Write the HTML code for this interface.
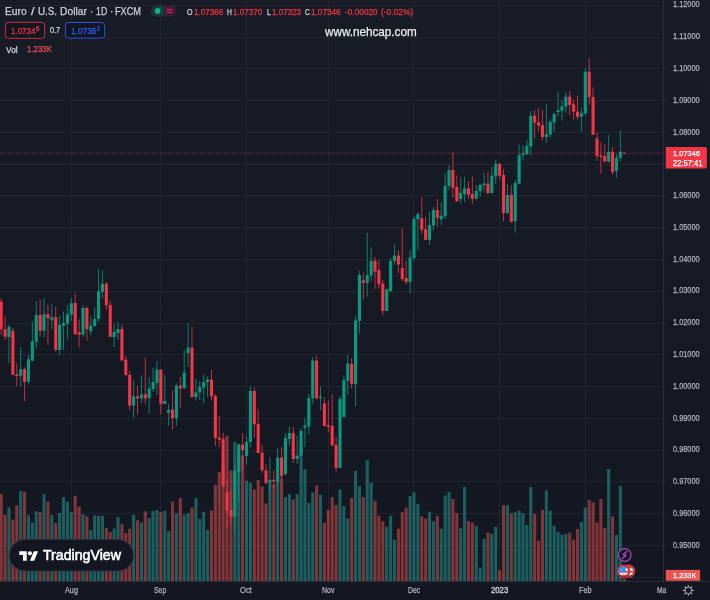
<!DOCTYPE html>
<html><head><meta charset="utf-8">
<style>
*{margin:0;padding:0;box-sizing:border-box}
html,body{width:710px;height:600px;overflow:hidden}
body{background:linear-gradient(180deg,#181c27 0%,#131722 100%);font-family:"Liberation Sans",Arial,sans-serif;position:relative}
svg{position:absolute;left:0;top:0}
.t{position:absolute;white-space:nowrap;transform-origin:0 0;-webkit-text-stroke:0.25px currentColor}
.tw{position:absolute;left:0;top:0;width:666.2px;height:600px;overflow:hidden}
</style></head><body>
<svg width="710" height="600" viewBox="0 0 710 600">
<line x1="0" y1="5.50" x2="666.0" y2="5.50" stroke="#21252f" stroke-width="1"/>
<line x1="0" y1="37.50" x2="666.0" y2="37.50" stroke="#21252f" stroke-width="1"/>
<line x1="0" y1="68.50" x2="666.0" y2="68.50" stroke="#21252f" stroke-width="1"/>
<line x1="0" y1="100.50" x2="666.0" y2="100.50" stroke="#21252f" stroke-width="1"/>
<line x1="0" y1="132.50" x2="666.0" y2="132.50" stroke="#21252f" stroke-width="1"/>
<line x1="0" y1="164.50" x2="666.0" y2="164.50" stroke="#21252f" stroke-width="1"/>
<line x1="0" y1="195.50" x2="666.0" y2="195.50" stroke="#21252f" stroke-width="1"/>
<line x1="0" y1="227.50" x2="666.0" y2="227.50" stroke="#21252f" stroke-width="1"/>
<line x1="0" y1="259.50" x2="666.0" y2="259.50" stroke="#21252f" stroke-width="1"/>
<line x1="0" y1="291.50" x2="666.0" y2="291.50" stroke="#21252f" stroke-width="1"/>
<line x1="0" y1="323.50" x2="666.0" y2="323.50" stroke="#21252f" stroke-width="1"/>
<line x1="0" y1="354.50" x2="666.0" y2="354.50" stroke="#21252f" stroke-width="1"/>
<line x1="0" y1="386.50" x2="666.0" y2="386.50" stroke="#21252f" stroke-width="1"/>
<line x1="0" y1="418.50" x2="666.0" y2="418.50" stroke="#21252f" stroke-width="1"/>
<line x1="0" y1="450.50" x2="666.0" y2="450.50" stroke="#21252f" stroke-width="1"/>
<line x1="0" y1="481.50" x2="666.0" y2="481.50" stroke="#21252f" stroke-width="1"/>
<line x1="0" y1="513.50" x2="666.0" y2="513.50" stroke="#21252f" stroke-width="1"/>
<line x1="0" y1="545.50" x2="666.0" y2="545.50" stroke="#21252f" stroke-width="1"/>
<line x1="0" y1="577.50" x2="666.0" y2="577.50" stroke="#21252f" stroke-width="1"/>
<line x1="71.50" y1="0" x2="71.50" y2="581.5" stroke="#21252f" stroke-width="1"/>
<line x1="160.50" y1="0" x2="160.50" y2="581.5" stroke="#21252f" stroke-width="1"/>
<line x1="246.50" y1="0" x2="246.50" y2="581.5" stroke="#21252f" stroke-width="1"/>
<line x1="328.50" y1="0" x2="328.50" y2="581.5" stroke="#21252f" stroke-width="1"/>
<line x1="413.50" y1="0" x2="413.50" y2="581.5" stroke="#21252f" stroke-width="1"/>
<line x1="499.50" y1="0" x2="499.50" y2="581.5" stroke="#21252f" stroke-width="1"/>
<line x1="585.50" y1="0" x2="585.50" y2="581.5" stroke="#21252f" stroke-width="1"/>
<rect x="-0.35" y="494.20" width="3.1" height="86.80" fill="rgba(239,83,80,0.5)"/>
<rect x="3.54" y="515.00" width="3.1" height="66.00" fill="rgba(239,83,80,0.5)"/>
<rect x="7.44" y="507.50" width="3.1" height="73.50" fill="rgba(38,166,154,0.5)"/>
<rect x="11.33" y="519.70" width="3.1" height="61.30" fill="rgba(239,83,80,0.5)"/>
<rect x="15.23" y="505.30" width="3.1" height="75.70" fill="rgba(239,83,80,0.5)"/>
<rect x="19.12" y="491.00" width="3.1" height="90.00" fill="rgba(38,166,154,0.5)"/>
<rect x="23.01" y="491.70" width="3.1" height="89.30" fill="rgba(239,83,80,0.5)"/>
<rect x="26.91" y="515.30" width="3.1" height="65.70" fill="rgba(38,166,154,0.5)"/>
<rect x="30.80" y="522.50" width="3.1" height="58.50" fill="rgba(38,166,154,0.5)"/>
<rect x="34.70" y="511.30" width="3.1" height="69.70" fill="rgba(38,166,154,0.5)"/>
<rect x="38.59" y="512.00" width="3.1" height="69.00" fill="rgba(239,83,80,0.5)"/>
<rect x="42.48" y="494.20" width="3.1" height="86.80" fill="rgba(38,166,154,0.5)"/>
<rect x="46.38" y="501.70" width="3.1" height="79.30" fill="rgba(239,83,80,0.5)"/>
<rect x="50.27" y="515.00" width="3.1" height="66.00" fill="rgba(38,166,154,0.5)"/>
<rect x="54.17" y="523.00" width="3.1" height="58.00" fill="rgba(239,83,80,0.5)"/>
<rect x="58.06" y="513.00" width="3.1" height="68.00" fill="rgba(38,166,154,0.5)"/>
<rect x="61.95" y="497.00" width="3.1" height="84.00" fill="rgba(38,166,154,0.5)"/>
<rect x="65.85" y="501.70" width="3.1" height="79.30" fill="rgba(38,166,154,0.5)"/>
<rect x="69.74" y="512.00" width="3.1" height="69.00" fill="rgba(38,166,154,0.5)"/>
<rect x="73.64" y="495.80" width="3.1" height="85.20" fill="rgba(239,83,80,0.5)"/>
<rect x="77.53" y="506.70" width="3.1" height="74.30" fill="rgba(239,83,80,0.5)"/>
<rect x="81.42" y="514.20" width="3.1" height="66.80" fill="rgba(38,166,154,0.5)"/>
<rect x="85.32" y="516.30" width="3.1" height="64.70" fill="rgba(239,83,80,0.5)"/>
<rect x="89.21" y="530.00" width="3.1" height="51.00" fill="rgba(38,166,154,0.5)"/>
<rect x="93.11" y="515.30" width="3.1" height="65.70" fill="rgba(38,166,154,0.5)"/>
<rect x="97.00" y="515.80" width="3.1" height="65.20" fill="rgba(38,166,154,0.5)"/>
<rect x="100.89" y="515.80" width="3.1" height="65.20" fill="rgba(38,166,154,0.5)"/>
<rect x="104.79" y="528.00" width="3.1" height="53.00" fill="rgba(239,83,80,0.5)"/>
<rect x="108.68" y="532.00" width="3.1" height="49.00" fill="rgba(239,83,80,0.5)"/>
<rect x="112.58" y="528.70" width="3.1" height="52.30" fill="rgba(38,166,154,0.5)"/>
<rect x="116.47" y="517.00" width="3.1" height="64.00" fill="rgba(38,166,154,0.5)"/>
<rect x="120.36" y="524.20" width="3.1" height="56.80" fill="rgba(239,83,80,0.5)"/>
<rect x="124.26" y="533.00" width="3.1" height="48.00" fill="rgba(239,83,80,0.5)"/>
<rect x="128.15" y="528.70" width="3.1" height="52.30" fill="rgba(239,83,80,0.5)"/>
<rect x="132.05" y="515.00" width="3.1" height="66.00" fill="rgba(38,166,154,0.5)"/>
<rect x="135.94" y="520.30" width="3.1" height="60.70" fill="rgba(239,83,80,0.5)"/>
<rect x="139.83" y="522.50" width="3.1" height="58.50" fill="rgba(38,166,154,0.5)"/>
<rect x="143.73" y="511.30" width="3.1" height="69.70" fill="rgba(239,83,80,0.5)"/>
<rect x="147.62" y="518.00" width="3.1" height="63.00" fill="rgba(38,166,154,0.5)"/>
<rect x="151.52" y="510.80" width="3.1" height="70.20" fill="rgba(38,166,154,0.5)"/>
<rect x="155.41" y="510.00" width="3.1" height="71.00" fill="rgba(38,166,154,0.5)"/>
<rect x="159.30" y="512.00" width="3.1" height="69.00" fill="rgba(239,83,80,0.5)"/>
<rect x="163.20" y="510.80" width="3.1" height="70.20" fill="rgba(38,166,154,0.5)"/>
<rect x="167.09" y="531.30" width="3.1" height="49.70" fill="rgba(38,166,154,0.5)"/>
<rect x="170.99" y="501.70" width="3.1" height="79.30" fill="rgba(239,83,80,0.5)"/>
<rect x="174.88" y="513.30" width="3.1" height="67.70" fill="rgba(38,166,154,0.5)"/>
<rect x="178.77" y="498.00" width="3.1" height="83.00" fill="rgba(239,83,80,0.5)"/>
<rect x="182.67" y="514.70" width="3.1" height="66.30" fill="rgba(38,166,154,0.5)"/>
<rect x="186.56" y="513.30" width="3.1" height="67.70" fill="rgba(38,166,154,0.5)"/>
<rect x="190.46" y="507.60" width="3.1" height="73.40" fill="rgba(239,83,80,0.5)"/>
<rect x="194.35" y="497.90" width="3.1" height="83.10" fill="rgba(38,166,154,0.5)"/>
<rect x="198.24" y="518.90" width="3.1" height="62.10" fill="rgba(38,166,154,0.5)"/>
<rect x="202.14" y="511.90" width="3.1" height="69.10" fill="rgba(38,166,154,0.5)"/>
<rect x="206.03" y="529.80" width="3.1" height="51.20" fill="rgba(38,166,154,0.5)"/>
<rect x="209.93" y="510.50" width="3.1" height="70.50" fill="rgba(239,83,80,0.5)"/>
<rect x="213.82" y="484.80" width="3.1" height="96.20" fill="rgba(239,83,80,0.5)"/>
<rect x="217.71" y="472.20" width="3.1" height="108.80" fill="rgba(239,83,80,0.5)"/>
<rect x="221.61" y="462.00" width="3.1" height="119.00" fill="rgba(239,83,80,0.5)"/>
<rect x="225.50" y="435.70" width="3.1" height="145.30" fill="rgba(239,83,80,0.5)"/>
<rect x="229.40" y="470.40" width="3.1" height="110.60" fill="rgba(239,83,80,0.5)"/>
<rect x="233.29" y="442.00" width="3.1" height="139.00" fill="rgba(38,166,154,0.5)"/>
<rect x="237.18" y="455.00" width="3.1" height="126.00" fill="rgba(38,166,154,0.5)"/>
<rect x="241.08" y="455.30" width="3.1" height="125.70" fill="rgba(239,83,80,0.5)"/>
<rect x="244.97" y="480.70" width="3.1" height="100.30" fill="rgba(38,166,154,0.5)"/>
<rect x="248.87" y="482.70" width="3.1" height="98.30" fill="rgba(38,166,154,0.5)"/>
<rect x="252.76" y="489.50" width="3.1" height="91.50" fill="rgba(239,83,80,0.5)"/>
<rect x="256.65" y="480.10" width="3.1" height="100.90" fill="rgba(239,83,80,0.5)"/>
<rect x="260.55" y="486.20" width="3.1" height="94.80" fill="rgba(239,83,80,0.5)"/>
<rect x="264.44" y="503.50" width="3.1" height="77.50" fill="rgba(239,83,80,0.5)"/>
<rect x="268.34" y="482.00" width="3.1" height="99.00" fill="rgba(38,166,154,0.5)"/>
<rect x="272.23" y="484.30" width="3.1" height="96.70" fill="rgba(239,83,80,0.5)"/>
<rect x="276.12" y="480.80" width="3.1" height="100.20" fill="rgba(38,166,154,0.5)"/>
<rect x="280.02" y="478.50" width="3.1" height="102.50" fill="rgba(239,83,80,0.5)"/>
<rect x="283.91" y="497.20" width="3.1" height="83.80" fill="rgba(38,166,154,0.5)"/>
<rect x="287.81" y="494.10" width="3.1" height="86.90" fill="rgba(38,166,154,0.5)"/>
<rect x="291.70" y="499.50" width="3.1" height="81.50" fill="rgba(239,83,80,0.5)"/>
<rect x="295.59" y="494.10" width="3.1" height="86.90" fill="rgba(38,166,154,0.5)"/>
<rect x="299.49" y="445.00" width="3.1" height="136.00" fill="rgba(38,166,154,0.5)"/>
<rect x="303.38" y="469.20" width="3.1" height="111.80" fill="rgba(38,166,154,0.5)"/>
<rect x="307.28" y="503.00" width="3.1" height="78.00" fill="rgba(38,166,154,0.5)"/>
<rect x="311.17" y="492.50" width="3.1" height="88.50" fill="rgba(38,166,154,0.5)"/>
<rect x="315.06" y="485.50" width="3.1" height="95.50" fill="rgba(239,83,80,0.5)"/>
<rect x="318.96" y="494.80" width="3.1" height="86.20" fill="rgba(38,166,154,0.5)"/>
<rect x="322.85" y="522.80" width="3.1" height="58.20" fill="rgba(239,83,80,0.5)"/>
<rect x="326.75" y="510.00" width="3.1" height="71.00" fill="rgba(239,83,80,0.5)"/>
<rect x="330.64" y="497.20" width="3.1" height="83.80" fill="rgba(239,83,80,0.5)"/>
<rect x="334.53" y="504.90" width="3.1" height="76.10" fill="rgba(239,83,80,0.5)"/>
<rect x="338.43" y="489.50" width="3.1" height="91.50" fill="rgba(38,166,154,0.5)"/>
<rect x="342.32" y="506.00" width="3.1" height="75.00" fill="rgba(38,166,154,0.5)"/>
<rect x="346.22" y="518.20" width="3.1" height="62.80" fill="rgba(38,166,154,0.5)"/>
<rect x="350.11" y="497.90" width="3.1" height="83.10" fill="rgba(239,83,80,0.5)"/>
<rect x="354.00" y="470.80" width="3.1" height="110.20" fill="rgba(38,166,154,0.5)"/>
<rect x="357.90" y="486.20" width="3.1" height="94.80" fill="rgba(38,166,154,0.5)"/>
<rect x="361.79" y="497.20" width="3.1" height="83.80" fill="rgba(239,83,80,0.5)"/>
<rect x="365.69" y="459.80" width="3.1" height="121.20" fill="rgba(38,166,154,0.5)"/>
<rect x="369.58" y="482.70" width="3.1" height="98.30" fill="rgba(38,166,154,0.5)"/>
<rect x="373.47" y="500.70" width="3.1" height="80.30" fill="rgba(239,83,80,0.5)"/>
<rect x="377.37" y="515.80" width="3.1" height="65.20" fill="rgba(239,83,80,0.5)"/>
<rect x="381.26" y="521.20" width="3.1" height="59.80" fill="rgba(239,83,80,0.5)"/>
<rect x="385.16" y="526.80" width="3.1" height="54.20" fill="rgba(38,166,154,0.5)"/>
<rect x="389.05" y="515.80" width="3.1" height="65.20" fill="rgba(38,166,154,0.5)"/>
<rect x="392.94" y="539.70" width="3.1" height="41.30" fill="rgba(38,166,154,0.5)"/>
<rect x="396.84" y="528.70" width="3.1" height="52.30" fill="rgba(239,83,80,0.5)"/>
<rect x="400.73" y="512.20" width="3.1" height="68.80" fill="rgba(239,83,80,0.5)"/>
<rect x="404.63" y="507.60" width="3.1" height="73.40" fill="rgba(239,83,80,0.5)"/>
<rect x="408.52" y="496.00" width="3.1" height="85.00" fill="rgba(38,166,154,0.5)"/>
<rect x="412.41" y="492.40" width="3.1" height="88.60" fill="rgba(38,166,154,0.5)"/>
<rect x="416.31" y="503.90" width="3.1" height="77.10" fill="rgba(38,166,154,0.5)"/>
<rect x="420.20" y="516.20" width="3.1" height="64.80" fill="rgba(239,83,80,0.5)"/>
<rect x="424.10" y="518.60" width="3.1" height="62.40" fill="rgba(239,83,80,0.5)"/>
<rect x="427.99" y="511.80" width="3.1" height="69.20" fill="rgba(38,166,154,0.5)"/>
<rect x="431.88" y="521.30" width="3.1" height="59.70" fill="rgba(38,166,154,0.5)"/>
<rect x="435.78" y="515.80" width="3.1" height="65.20" fill="rgba(239,83,80,0.5)"/>
<rect x="439.67" y="528.70" width="3.1" height="52.30" fill="rgba(38,166,154,0.5)"/>
<rect x="443.57" y="495.70" width="3.1" height="85.30" fill="rgba(38,166,154,0.5)"/>
<rect x="447.46" y="492.00" width="3.1" height="89.00" fill="rgba(38,166,154,0.5)"/>
<rect x="451.35" y="499.00" width="3.1" height="82.00" fill="rgba(239,83,80,0.5)"/>
<rect x="455.25" y="513.10" width="3.1" height="67.90" fill="rgba(239,83,80,0.5)"/>
<rect x="459.14" y="528.30" width="3.1" height="52.70" fill="rgba(38,166,154,0.5)"/>
<rect x="463.04" y="487.00" width="3.1" height="94.00" fill="rgba(38,166,154,0.5)"/>
<rect x="466.93" y="521.00" width="3.1" height="60.00" fill="rgba(239,83,80,0.5)"/>
<rect x="470.82" y="522.80" width="3.1" height="58.20" fill="rgba(239,83,80,0.5)"/>
<rect x="474.72" y="525.90" width="3.1" height="55.10" fill="rgba(38,166,154,0.5)"/>
<rect x="478.61" y="567.50" width="3.1" height="13.50" fill="rgba(38,166,154,0.5)"/>
<rect x="482.51" y="538.80" width="3.1" height="42.20" fill="rgba(38,166,154,0.5)"/>
<rect x="486.40" y="532.70" width="3.1" height="48.30" fill="rgba(239,83,80,0.5)"/>
<rect x="490.29" y="533.80" width="3.1" height="47.20" fill="rgba(38,166,154,0.5)"/>
<rect x="494.19" y="526.80" width="3.1" height="54.20" fill="rgba(38,166,154,0.5)"/>
<rect x="498.08" y="570.00" width="3.1" height="11.00" fill="rgba(239,83,80,0.5)"/>
<rect x="501.98" y="505.20" width="3.1" height="75.80" fill="rgba(239,83,80,0.5)"/>
<rect x="505.87" y="505.20" width="3.1" height="75.80" fill="rgba(38,166,154,0.5)"/>
<rect x="509.76" y="513.10" width="3.1" height="67.90" fill="rgba(239,83,80,0.5)"/>
<rect x="513.66" y="512.20" width="3.1" height="68.80" fill="rgba(38,166,154,0.5)"/>
<rect x="517.55" y="510.70" width="3.1" height="70.30" fill="rgba(38,166,154,0.5)"/>
<rect x="521.45" y="513.10" width="3.1" height="67.90" fill="rgba(38,166,154,0.5)"/>
<rect x="525.34" y="525.00" width="3.1" height="56.00" fill="rgba(38,166,154,0.5)"/>
<rect x="529.23" y="486.90" width="3.1" height="94.10" fill="rgba(38,166,154,0.5)"/>
<rect x="533.13" y="514.00" width="3.1" height="67.00" fill="rgba(239,83,80,0.5)"/>
<rect x="537.02" y="540.60" width="3.1" height="40.40" fill="rgba(239,83,80,0.5)"/>
<rect x="540.92" y="510.00" width="3.1" height="71.00" fill="rgba(239,83,80,0.5)"/>
<rect x="544.81" y="490.20" width="3.1" height="90.80" fill="rgba(38,166,154,0.5)"/>
<rect x="548.70" y="510.70" width="3.1" height="70.30" fill="rgba(38,166,154,0.5)"/>
<rect x="552.60" y="525.90" width="3.1" height="55.10" fill="rgba(38,166,154,0.5)"/>
<rect x="556.49" y="532.00" width="3.1" height="49.00" fill="rgba(38,166,154,0.5)"/>
<rect x="560.39" y="534.70" width="3.1" height="46.30" fill="rgba(38,166,154,0.5)"/>
<rect x="564.28" y="533.80" width="3.1" height="47.20" fill="rgba(38,166,154,0.5)"/>
<rect x="568.17" y="532.70" width="3.1" height="48.30" fill="rgba(239,83,80,0.5)"/>
<rect x="572.07" y="539.60" width="3.1" height="41.40" fill="rgba(239,83,80,0.5)"/>
<rect x="575.96" y="529.00" width="3.1" height="52.00" fill="rgba(239,83,80,0.5)"/>
<rect x="579.86" y="522.00" width="3.1" height="59.00" fill="rgba(38,166,154,0.5)"/>
<rect x="583.75" y="507.60" width="3.1" height="73.40" fill="rgba(38,166,154,0.5)"/>
<rect x="587.64" y="500.00" width="3.1" height="81.00" fill="rgba(239,83,80,0.5)"/>
<rect x="591.54" y="502.40" width="3.1" height="78.60" fill="rgba(239,83,80,0.5)"/>
<rect x="595.43" y="522.40" width="3.1" height="58.60" fill="rgba(239,83,80,0.5)"/>
<rect x="599.33" y="499.00" width="3.1" height="82.00" fill="rgba(239,83,80,0.5)"/>
<rect x="603.22" y="528.00" width="3.1" height="53.00" fill="rgba(239,83,80,0.5)"/>
<rect x="607.11" y="469.00" width="3.1" height="112.00" fill="rgba(38,166,154,0.5)"/>
<rect x="611.01" y="516.40" width="3.1" height="64.60" fill="rgba(239,83,80,0.5)"/>
<rect x="614.90" y="535.00" width="3.1" height="46.00" fill="rgba(38,166,154,0.5)"/>
<rect x="618.80" y="486.00" width="3.1" height="95.00" fill="rgba(38,166,154,0.5)"/>
<rect x="622.69" y="578.50" width="3.1" height="2.50" fill="rgba(239,83,80,0.5)"/>
<line x1="1.20" y1="298.30" x2="1.20" y2="334.70" stroke="rgba(242,54,69,0.8)" stroke-width="1"/>
<line x1="5.09" y1="315.80" x2="5.09" y2="340.00" stroke="rgba(242,54,69,0.8)" stroke-width="1"/>
<line x1="8.99" y1="325.00" x2="8.99" y2="363.30" stroke="rgba(8,153,129,0.8)" stroke-width="1"/>
<line x1="12.88" y1="328.00" x2="12.88" y2="375.30" stroke="rgba(242,54,69,0.8)" stroke-width="1"/>
<line x1="16.78" y1="363.00" x2="16.78" y2="386.30" stroke="rgba(242,54,69,0.8)" stroke-width="1"/>
<line x1="20.67" y1="347.20" x2="20.67" y2="386.70" stroke="rgba(8,153,129,0.8)" stroke-width="1"/>
<line x1="24.56" y1="367.50" x2="24.56" y2="401.30" stroke="rgba(242,54,69,0.8)" stroke-width="1"/>
<line x1="28.46" y1="355.00" x2="28.46" y2="384.20" stroke="rgba(8,153,129,0.8)" stroke-width="1"/>
<line x1="32.35" y1="321.70" x2="32.35" y2="360.80" stroke="rgba(8,153,129,0.8)" stroke-width="1"/>
<line x1="36.25" y1="300.80" x2="36.25" y2="348.30" stroke="rgba(8,153,129,0.8)" stroke-width="1"/>
<line x1="40.14" y1="299.50" x2="40.14" y2="336.70" stroke="rgba(242,54,69,0.8)" stroke-width="1"/>
<line x1="44.03" y1="298.00" x2="44.03" y2="337.50" stroke="rgba(8,153,129,0.8)" stroke-width="1"/>
<line x1="47.93" y1="305.00" x2="47.93" y2="345.00" stroke="rgba(242,54,69,0.8)" stroke-width="1"/>
<line x1="51.82" y1="304.20" x2="51.82" y2="329.20" stroke="rgba(8,153,129,0.8)" stroke-width="1"/>
<line x1="55.72" y1="307.00" x2="55.72" y2="351.70" stroke="rgba(242,54,69,0.8)" stroke-width="1"/>
<line x1="59.61" y1="315.80" x2="59.61" y2="355.30" stroke="rgba(8,153,129,0.8)" stroke-width="1"/>
<line x1="63.50" y1="311.70" x2="63.50" y2="350.00" stroke="rgba(8,153,129,0.8)" stroke-width="1"/>
<line x1="67.40" y1="305.30" x2="67.40" y2="339.70" stroke="rgba(8,153,129,0.8)" stroke-width="1"/>
<line x1="71.29" y1="298.30" x2="71.29" y2="320.80" stroke="rgba(8,153,129,0.8)" stroke-width="1"/>
<line x1="75.19" y1="293.30" x2="75.19" y2="335.00" stroke="rgba(242,54,69,0.8)" stroke-width="1"/>
<line x1="79.08" y1="319.40" x2="79.08" y2="347.00" stroke="rgba(242,54,69,0.8)" stroke-width="1"/>
<line x1="82.97" y1="305.30" x2="82.97" y2="336.80" stroke="rgba(8,153,129,0.8)" stroke-width="1"/>
<line x1="86.87" y1="306.40" x2="86.87" y2="340.40" stroke="rgba(242,54,69,0.8)" stroke-width="1"/>
<line x1="90.76" y1="316.20" x2="90.76" y2="335.20" stroke="rgba(8,153,129,0.8)" stroke-width="1"/>
<line x1="94.66" y1="307.50" x2="94.66" y2="327.00" stroke="rgba(8,153,129,0.8)" stroke-width="1"/>
<line x1="98.55" y1="269.00" x2="98.55" y2="321.60" stroke="rgba(8,153,129,0.8)" stroke-width="1"/>
<line x1="102.44" y1="270.70" x2="102.44" y2="298.40" stroke="rgba(8,153,129,0.8)" stroke-width="1"/>
<line x1="106.34" y1="282.00" x2="106.34" y2="310.10" stroke="rgba(242,54,69,0.8)" stroke-width="1"/>
<line x1="110.23" y1="300.60" x2="110.23" y2="336.80" stroke="rgba(242,54,69,0.8)" stroke-width="1"/>
<line x1="114.13" y1="323.60" x2="114.13" y2="347.00" stroke="rgba(8,153,129,0.8)" stroke-width="1"/>
<line x1="118.02" y1="322.00" x2="118.02" y2="340.00" stroke="rgba(8,153,129,0.8)" stroke-width="1"/>
<line x1="121.91" y1="324.40" x2="121.91" y2="361.00" stroke="rgba(242,54,69,0.8)" stroke-width="1"/>
<line x1="125.81" y1="356.00" x2="125.81" y2="376.00" stroke="rgba(242,54,69,0.8)" stroke-width="1"/>
<line x1="129.70" y1="371.00" x2="129.70" y2="409.60" stroke="rgba(242,54,69,0.8)" stroke-width="1"/>
<line x1="133.60" y1="380.00" x2="133.60" y2="418.00" stroke="rgba(8,153,129,0.8)" stroke-width="1"/>
<line x1="137.49" y1="386.00" x2="137.49" y2="414.40" stroke="rgba(242,54,69,0.8)" stroke-width="1"/>
<line x1="141.38" y1="375.00" x2="141.38" y2="403.00" stroke="rgba(8,153,129,0.8)" stroke-width="1"/>
<line x1="145.28" y1="357.60" x2="145.28" y2="404.00" stroke="rgba(242,54,69,0.8)" stroke-width="1"/>
<line x1="149.17" y1="377.00" x2="149.17" y2="413.60" stroke="rgba(8,153,129,0.8)" stroke-width="1"/>
<line x1="153.07" y1="368.00" x2="153.07" y2="392.00" stroke="rgba(8,153,129,0.8)" stroke-width="1"/>
<line x1="156.96" y1="361.00" x2="156.96" y2="395.00" stroke="rgba(8,153,129,0.8)" stroke-width="1"/>
<line x1="160.85" y1="369.00" x2="160.85" y2="414.40" stroke="rgba(242,54,69,0.8)" stroke-width="1"/>
<line x1="164.75" y1="375.00" x2="164.75" y2="404.40" stroke="rgba(8,153,129,0.8)" stroke-width="1"/>
<line x1="168.64" y1="404.00" x2="168.64" y2="425.60" stroke="rgba(8,153,129,0.8)" stroke-width="1"/>
<line x1="172.54" y1="390.40" x2="172.54" y2="429.60" stroke="rgba(242,54,69,0.8)" stroke-width="1"/>
<line x1="176.43" y1="383.60" x2="176.43" y2="425.60" stroke="rgba(8,153,129,0.8)" stroke-width="1"/>
<line x1="180.32" y1="377.00" x2="180.32" y2="408.00" stroke="rgba(242,54,69,0.8)" stroke-width="1"/>
<line x1="184.22" y1="350.00" x2="184.22" y2="388.40" stroke="rgba(8,153,129,0.8)" stroke-width="1"/>
<line x1="188.11" y1="323.00" x2="188.11" y2="367.00" stroke="rgba(8,153,129,0.8)" stroke-width="1"/>
<line x1="192.01" y1="327.00" x2="192.01" y2="397.60" stroke="rgba(242,54,69,0.8)" stroke-width="1"/>
<line x1="195.90" y1="379.00" x2="195.90" y2="400.40" stroke="rgba(8,153,129,0.8)" stroke-width="1"/>
<line x1="199.79" y1="381.00" x2="199.79" y2="400.00" stroke="rgba(8,153,129,0.8)" stroke-width="1"/>
<line x1="203.69" y1="374.40" x2="203.69" y2="403.60" stroke="rgba(8,153,129,0.8)" stroke-width="1"/>
<line x1="207.58" y1="376.40" x2="207.58" y2="397.00" stroke="rgba(8,153,129,0.8)" stroke-width="1"/>
<line x1="211.48" y1="370.00" x2="211.48" y2="400.40" stroke="rgba(242,54,69,0.8)" stroke-width="1"/>
<line x1="215.37" y1="394.00" x2="215.37" y2="446.00" stroke="rgba(242,54,69,0.8)" stroke-width="1"/>
<line x1="219.26" y1="416.00" x2="219.26" y2="447.00" stroke="rgba(242,54,69,0.8)" stroke-width="1"/>
<line x1="223.16" y1="432.70" x2="223.16" y2="488.00" stroke="rgba(242,54,69,0.8)" stroke-width="1"/>
<line x1="227.05" y1="478.70" x2="227.05" y2="528.00" stroke="rgba(242,54,69,0.8)" stroke-width="1"/>
<line x1="230.95" y1="490.00" x2="230.95" y2="524.70" stroke="rgba(242,54,69,0.8)" stroke-width="1"/>
<line x1="234.84" y1="465.30" x2="234.84" y2="533.00" stroke="rgba(8,153,129,0.8)" stroke-width="1"/>
<line x1="238.73" y1="444.00" x2="238.73" y2="502.00" stroke="rgba(8,153,129,0.8)" stroke-width="1"/>
<line x1="242.63" y1="433.00" x2="242.63" y2="470.00" stroke="rgba(242,54,69,0.8)" stroke-width="1"/>
<line x1="246.52" y1="435.70" x2="246.52" y2="464.50" stroke="rgba(8,153,129,0.8)" stroke-width="1"/>
<line x1="250.42" y1="386.40" x2="250.42" y2="447.60" stroke="rgba(8,153,129,0.8)" stroke-width="1"/>
<line x1="254.31" y1="387.60" x2="254.31" y2="438.00" stroke="rgba(242,54,69,0.8)" stroke-width="1"/>
<line x1="258.20" y1="409.60" x2="258.20" y2="453.00" stroke="rgba(242,54,69,0.8)" stroke-width="1"/>
<line x1="262.10" y1="444.40" x2="262.10" y2="473.00" stroke="rgba(242,54,69,0.8)" stroke-width="1"/>
<line x1="265.99" y1="464.00" x2="265.99" y2="484.00" stroke="rgba(242,54,69,0.8)" stroke-width="1"/>
<line x1="269.89" y1="457.50" x2="269.89" y2="491.30" stroke="rgba(8,153,129,0.8)" stroke-width="1"/>
<line x1="273.78" y1="470.20" x2="273.78" y2="488.00" stroke="rgba(242,54,69,0.8)" stroke-width="1"/>
<line x1="277.67" y1="448.00" x2="277.67" y2="485.00" stroke="rgba(8,153,129,0.8)" stroke-width="1"/>
<line x1="281.57" y1="447.00" x2="281.57" y2="480.00" stroke="rgba(242,54,69,0.8)" stroke-width="1"/>
<line x1="285.46" y1="433.00" x2="285.46" y2="476.00" stroke="rgba(8,153,129,0.8)" stroke-width="1"/>
<line x1="289.36" y1="426.00" x2="289.36" y2="446.00" stroke="rgba(8,153,129,0.8)" stroke-width="1"/>
<line x1="293.25" y1="427.00" x2="293.25" y2="463.00" stroke="rgba(242,54,69,0.8)" stroke-width="1"/>
<line x1="297.14" y1="435.60" x2="297.14" y2="464.00" stroke="rgba(8,153,129,0.8)" stroke-width="1"/>
<line x1="301.04" y1="428.00" x2="301.04" y2="456.00" stroke="rgba(8,153,129,0.8)" stroke-width="1"/>
<line x1="304.93" y1="418.00" x2="304.93" y2="447.00" stroke="rgba(8,153,129,0.8)" stroke-width="1"/>
<line x1="308.83" y1="394.00" x2="308.83" y2="434.00" stroke="rgba(8,153,129,0.8)" stroke-width="1"/>
<line x1="312.72" y1="357.50" x2="312.72" y2="404.00" stroke="rgba(8,153,129,0.8)" stroke-width="1"/>
<line x1="316.61" y1="355.90" x2="316.61" y2="399.50" stroke="rgba(242,54,69,0.8)" stroke-width="1"/>
<line x1="320.51" y1="386.70" x2="320.51" y2="410.00" stroke="rgba(8,153,129,0.8)" stroke-width="1"/>
<line x1="324.40" y1="397.20" x2="324.40" y2="426.80" stroke="rgba(242,54,69,0.8)" stroke-width="1"/>
<line x1="328.30" y1="400.70" x2="328.30" y2="432.20" stroke="rgba(242,54,69,0.8)" stroke-width="1"/>
<line x1="332.19" y1="394.00" x2="332.19" y2="446.20" stroke="rgba(242,54,69,0.8)" stroke-width="1"/>
<line x1="336.08" y1="436.80" x2="336.08" y2="471.80" stroke="rgba(242,54,69,0.8)" stroke-width="1"/>
<line x1="339.98" y1="396.00" x2="339.98" y2="467.90" stroke="rgba(8,153,129,0.8)" stroke-width="1"/>
<line x1="343.87" y1="375.30" x2="343.87" y2="417.00" stroke="rgba(8,153,129,0.8)" stroke-width="1"/>
<line x1="347.77" y1="355.00" x2="347.77" y2="394.80" stroke="rgba(8,153,129,0.8)" stroke-width="1"/>
<line x1="351.66" y1="358.00" x2="351.66" y2="388.30" stroke="rgba(242,54,69,0.8)" stroke-width="1"/>
<line x1="355.55" y1="316.00" x2="355.55" y2="406.00" stroke="rgba(8,153,129,0.8)" stroke-width="1"/>
<line x1="359.45" y1="270.60" x2="359.45" y2="333.40" stroke="rgba(8,153,129,0.8)" stroke-width="1"/>
<line x1="363.34" y1="272.80" x2="363.34" y2="299.40" stroke="rgba(242,54,69,0.8)" stroke-width="1"/>
<line x1="367.24" y1="232.80" x2="367.24" y2="296.60" stroke="rgba(8,153,129,0.8)" stroke-width="1"/>
<line x1="371.13" y1="247.20" x2="371.13" y2="281.40" stroke="rgba(8,153,129,0.8)" stroke-width="1"/>
<line x1="375.02" y1="256.80" x2="375.02" y2="289.00" stroke="rgba(242,54,69,0.8)" stroke-width="1"/>
<line x1="378.92" y1="260.00" x2="378.92" y2="289.00" stroke="rgba(242,54,69,0.8)" stroke-width="1"/>
<line x1="382.81" y1="280.00" x2="382.81" y2="315.60" stroke="rgba(242,54,69,0.8)" stroke-width="1"/>
<line x1="386.71" y1="288.00" x2="386.71" y2="311.00" stroke="rgba(8,153,129,0.8)" stroke-width="1"/>
<line x1="390.60" y1="258.00" x2="390.60" y2="292.00" stroke="rgba(8,153,129,0.8)" stroke-width="1"/>
<line x1="394.49" y1="243.60" x2="394.49" y2="265.00" stroke="rgba(8,153,129,0.8)" stroke-width="1"/>
<line x1="398.39" y1="250.00" x2="398.39" y2="273.00" stroke="rgba(242,54,69,0.8)" stroke-width="1"/>
<line x1="402.28" y1="228.00" x2="402.28" y2="281.00" stroke="rgba(242,54,69,0.8)" stroke-width="1"/>
<line x1="406.18" y1="261.00" x2="406.18" y2="284.00" stroke="rgba(242,54,69,0.8)" stroke-width="1"/>
<line x1="410.07" y1="250.00" x2="410.07" y2="293.60" stroke="rgba(8,153,129,0.8)" stroke-width="1"/>
<line x1="413.96" y1="216.40" x2="413.96" y2="261.00" stroke="rgba(8,153,129,0.8)" stroke-width="1"/>
<line x1="417.86" y1="212.30" x2="417.86" y2="250.00" stroke="rgba(8,153,129,0.8)" stroke-width="1"/>
<line x1="421.75" y1="197.30" x2="421.75" y2="233.40" stroke="rgba(242,54,69,0.8)" stroke-width="1"/>
<line x1="425.65" y1="216.90" x2="425.65" y2="240.20" stroke="rgba(242,54,69,0.8)" stroke-width="1"/>
<line x1="429.54" y1="211.40" x2="429.54" y2="245.00" stroke="rgba(8,153,129,0.8)" stroke-width="1"/>
<line x1="433.43" y1="206.80" x2="433.43" y2="230.70" stroke="rgba(8,153,129,0.8)" stroke-width="1"/>
<line x1="437.33" y1="199.10" x2="437.33" y2="226.60" stroke="rgba(242,54,69,0.8)" stroke-width="1"/>
<line x1="441.22" y1="202.30" x2="441.22" y2="225.20" stroke="rgba(8,153,129,0.8)" stroke-width="1"/>
<line x1="445.12" y1="172.90" x2="445.12" y2="218.80" stroke="rgba(8,153,129,0.8)" stroke-width="1"/>
<line x1="449.01" y1="165.00" x2="449.01" y2="189.60" stroke="rgba(8,153,129,0.8)" stroke-width="1"/>
<line x1="452.90" y1="152.30" x2="452.90" y2="198.00" stroke="rgba(242,54,69,0.8)" stroke-width="1"/>
<line x1="456.80" y1="175.30" x2="456.80" y2="201.60" stroke="rgba(242,54,69,0.8)" stroke-width="1"/>
<line x1="460.69" y1="177.30" x2="460.69" y2="203.30" stroke="rgba(8,153,129,0.8)" stroke-width="1"/>
<line x1="464.59" y1="176.70" x2="464.59" y2="202.00" stroke="rgba(8,153,129,0.8)" stroke-width="1"/>
<line x1="468.48" y1="181.30" x2="468.48" y2="198.70" stroke="rgba(242,54,69,0.8)" stroke-width="1"/>
<line x1="472.37" y1="176.70" x2="472.37" y2="204.00" stroke="rgba(242,54,69,0.8)" stroke-width="1"/>
<line x1="476.27" y1="185.00" x2="476.27" y2="199.70" stroke="rgba(8,153,129,0.8)" stroke-width="1"/>
<line x1="480.16" y1="184.00" x2="480.16" y2="197.00" stroke="rgba(8,153,129,0.8)" stroke-width="1"/>
<line x1="484.06" y1="173.00" x2="484.06" y2="191.70" stroke="rgba(8,153,129,0.8)" stroke-width="1"/>
<line x1="487.95" y1="172.00" x2="487.95" y2="194.20" stroke="rgba(242,54,69,0.8)" stroke-width="1"/>
<line x1="491.84" y1="167.00" x2="491.84" y2="193.70" stroke="rgba(8,153,129,0.8)" stroke-width="1"/>
<line x1="495.74" y1="159.70" x2="495.74" y2="183.70" stroke="rgba(8,153,129,0.8)" stroke-width="1"/>
<line x1="499.63" y1="163.30" x2="499.63" y2="180.00" stroke="rgba(242,54,69,0.8)" stroke-width="1"/>
<line x1="503.53" y1="169.20" x2="503.53" y2="221.30" stroke="rgba(242,54,69,0.8)" stroke-width="1"/>
<line x1="507.42" y1="184.20" x2="507.42" y2="214.20" stroke="rgba(8,153,129,0.8)" stroke-width="1"/>
<line x1="511.31" y1="185.30" x2="511.31" y2="223.00" stroke="rgba(242,54,69,0.8)" stroke-width="1"/>
<line x1="515.21" y1="180.00" x2="515.21" y2="232.50" stroke="rgba(8,153,129,0.8)" stroke-width="1"/>
<line x1="519.10" y1="144.70" x2="519.10" y2="183.70" stroke="rgba(8,153,129,0.8)" stroke-width="1"/>
<line x1="523.00" y1="145.20" x2="523.00" y2="160.20" stroke="rgba(8,153,129,0.8)" stroke-width="1"/>
<line x1="526.89" y1="139.70" x2="526.89" y2="155.30" stroke="rgba(8,153,129,0.8)" stroke-width="1"/>
<line x1="530.78" y1="111.20" x2="530.78" y2="155.70" stroke="rgba(8,153,129,0.8)" stroke-width="1"/>
<line x1="534.68" y1="110.00" x2="534.68" y2="138.20" stroke="rgba(242,54,69,0.8)" stroke-width="1"/>
<line x1="538.57" y1="108.20" x2="538.57" y2="131.30" stroke="rgba(242,54,69,0.8)" stroke-width="1"/>
<line x1="542.47" y1="110.00" x2="542.47" y2="140.30" stroke="rgba(242,54,69,0.8)" stroke-width="1"/>
<line x1="546.36" y1="104.00" x2="546.36" y2="143.00" stroke="rgba(8,153,129,0.8)" stroke-width="1"/>
<line x1="550.25" y1="119.30" x2="550.25" y2="137.70" stroke="rgba(8,153,129,0.8)" stroke-width="1"/>
<line x1="554.15" y1="113.00" x2="554.15" y2="131.50" stroke="rgba(8,153,129,0.8)" stroke-width="1"/>
<line x1="558.04" y1="91.70" x2="558.04" y2="116.70" stroke="rgba(8,153,129,0.8)" stroke-width="1"/>
<line x1="561.94" y1="100.30" x2="561.94" y2="120.80" stroke="rgba(8,153,129,0.8)" stroke-width="1"/>
<line x1="565.83" y1="92.50" x2="565.83" y2="113.30" stroke="rgba(8,153,129,0.8)" stroke-width="1"/>
<line x1="569.72" y1="90.80" x2="569.72" y2="115.30" stroke="rgba(242,54,69,0.8)" stroke-width="1"/>
<line x1="573.62" y1="99.70" x2="573.62" y2="119.70" stroke="rgba(242,54,69,0.8)" stroke-width="1"/>
<line x1="577.51" y1="95.80" x2="577.51" y2="119.70" stroke="rgba(242,54,69,0.8)" stroke-width="1"/>
<line x1="581.41" y1="108.00" x2="581.41" y2="131.70" stroke="rgba(8,153,129,0.8)" stroke-width="1"/>
<line x1="585.30" y1="68.00" x2="585.30" y2="115.30" stroke="rgba(8,153,129,0.8)" stroke-width="1"/>
<line x1="589.19" y1="58.00" x2="589.19" y2="104.80" stroke="rgba(242,54,69,0.8)" stroke-width="1"/>
<line x1="593.09" y1="87.50" x2="593.09" y2="134.70" stroke="rgba(242,54,69,0.8)" stroke-width="1"/>
<line x1="596.98" y1="132.30" x2="596.98" y2="160.80" stroke="rgba(242,54,69,0.8)" stroke-width="1"/>
<line x1="600.88" y1="142.50" x2="600.88" y2="174.00" stroke="rgba(242,54,69,0.8)" stroke-width="1"/>
<line x1="604.77" y1="144.30" x2="604.77" y2="161.70" stroke="rgba(242,54,69,0.8)" stroke-width="1"/>
<line x1="608.66" y1="134.70" x2="608.66" y2="162.00" stroke="rgba(8,153,129,0.8)" stroke-width="1"/>
<line x1="612.56" y1="147.00" x2="612.56" y2="174.70" stroke="rgba(242,54,69,0.8)" stroke-width="1"/>
<line x1="616.45" y1="153.80" x2="616.45" y2="177.70" stroke="rgba(8,153,129,0.8)" stroke-width="1"/>
<line x1="620.35" y1="130.80" x2="620.35" y2="161.70" stroke="rgba(8,153,129,0.8)" stroke-width="1"/>
<line x1="624.24" y1="152.60" x2="624.24" y2="153.50" stroke="rgba(242,54,69,0.8)" stroke-width="1"/>
<rect x="-0.35" y="301.70" width="3.1" height="27.50" fill="#f23645"/>
<rect x="3.54" y="329.20" width="3.1" height="7.50" fill="#f23645"/>
<rect x="7.44" y="326.70" width="3.1" height="10.30" fill="#089981"/>
<rect x="11.33" y="330.80" width="3.1" height="43.90" fill="#f23645"/>
<rect x="15.23" y="374.20" width="3.1" height="1.60" fill="#f23645"/>
<rect x="19.12" y="369.20" width="3.1" height="6.60" fill="#089981"/>
<rect x="23.01" y="369.20" width="3.1" height="12.80" fill="#f23645"/>
<rect x="26.91" y="359.20" width="3.1" height="22.50" fill="#089981"/>
<rect x="30.80" y="341.30" width="3.1" height="19.50" fill="#089981"/>
<rect x="34.70" y="315.00" width="3.1" height="26.70" fill="#089981"/>
<rect x="38.59" y="315.00" width="3.1" height="15.80" fill="#f23645"/>
<rect x="42.48" y="314.20" width="3.1" height="16.60" fill="#089981"/>
<rect x="46.38" y="314.20" width="3.1" height="4.10" fill="#f23645"/>
<rect x="50.27" y="317.20" width="3.1" height="3.10" fill="#089981"/>
<rect x="54.17" y="317.20" width="3.1" height="32.80" fill="#f23645"/>
<rect x="58.06" y="325.00" width="3.1" height="25.00" fill="#089981"/>
<rect x="61.95" y="323.00" width="3.1" height="2.80" fill="#089981"/>
<rect x="65.85" y="314.20" width="3.1" height="9.50" fill="#089981"/>
<rect x="69.74" y="303.30" width="3.1" height="11.40" fill="#089981"/>
<rect x="73.64" y="303.00" width="3.1" height="31.20" fill="#f23645"/>
<rect x="77.53" y="332.40" width="3.1" height="2.20" fill="#f23645"/>
<rect x="81.42" y="308.00" width="3.1" height="26.60" fill="#089981"/>
<rect x="85.32" y="308.00" width="3.1" height="21.20" fill="#f23645"/>
<rect x="89.21" y="325.50" width="3.1" height="5.80" fill="#089981"/>
<rect x="93.11" y="318.80" width="3.1" height="7.20" fill="#089981"/>
<rect x="97.00" y="291.30" width="3.1" height="27.50" fill="#089981"/>
<rect x="100.89" y="283.70" width="3.1" height="8.20" fill="#089981"/>
<rect x="104.79" y="283.70" width="3.1" height="21.60" fill="#f23645"/>
<rect x="108.68" y="304.90" width="3.1" height="31.90" fill="#f23645"/>
<rect x="112.58" y="332.00" width="3.1" height="5.00" fill="#089981"/>
<rect x="116.47" y="329.00" width="3.1" height="4.00" fill="#089981"/>
<rect x="120.36" y="329.00" width="3.1" height="31.40" fill="#f23645"/>
<rect x="124.26" y="359.60" width="3.1" height="15.40" fill="#f23645"/>
<rect x="128.15" y="375.00" width="3.1" height="30.60" fill="#f23645"/>
<rect x="132.05" y="396.40" width="3.1" height="9.20" fill="#089981"/>
<rect x="135.94" y="396.40" width="3.1" height="2.00" fill="#f23645"/>
<rect x="139.83" y="394.40" width="3.1" height="4.00" fill="#089981"/>
<rect x="143.73" y="394.40" width="3.1" height="4.00" fill="#f23645"/>
<rect x="147.62" y="388.40" width="3.1" height="9.60" fill="#089981"/>
<rect x="151.52" y="382.00" width="3.1" height="7.00" fill="#089981"/>
<rect x="155.41" y="369.60" width="3.1" height="13.40" fill="#089981"/>
<rect x="159.30" y="369.60" width="3.1" height="34.40" fill="#f23645"/>
<rect x="163.20" y="401.00" width="3.1" height="3.00" fill="#089981"/>
<rect x="167.09" y="409.60" width="3.1" height="3.40" fill="#089981"/>
<rect x="170.99" y="409.60" width="3.1" height="8.40" fill="#f23645"/>
<rect x="174.88" y="385.60" width="3.1" height="32.40" fill="#089981"/>
<rect x="178.77" y="385.60" width="3.1" height="2.80" fill="#f23645"/>
<rect x="182.67" y="372.40" width="3.1" height="16.00" fill="#089981"/>
<rect x="186.56" y="347.60" width="3.1" height="5.40" fill="#089981"/>
<rect x="190.46" y="347.60" width="3.1" height="49.40" fill="#f23645"/>
<rect x="194.35" y="392.40" width="3.1" height="4.60" fill="#089981"/>
<rect x="198.24" y="387.00" width="3.1" height="5.40" fill="#089981"/>
<rect x="202.14" y="382.00" width="3.1" height="5.60" fill="#089981"/>
<rect x="206.03" y="379.60" width="3.1" height="2.40" fill="#089981"/>
<rect x="209.93" y="379.60" width="3.1" height="16.80" fill="#f23645"/>
<rect x="213.82" y="396.00" width="3.1" height="42.00" fill="#f23645"/>
<rect x="217.71" y="437.60" width="3.1" height="2.10" fill="#f23645"/>
<rect x="221.61" y="439.00" width="3.1" height="47.00" fill="#f23645"/>
<rect x="225.50" y="492.00" width="3.1" height="18.70" fill="#f23645"/>
<rect x="229.40" y="510.00" width="3.1" height="6.70" fill="#f23645"/>
<rect x="233.29" y="470.70" width="3.1" height="46.00" fill="#089981"/>
<rect x="237.18" y="444.30" width="3.1" height="27.40" fill="#089981"/>
<rect x="241.08" y="444.70" width="3.1" height="5.30" fill="#f23645"/>
<rect x="244.97" y="442.00" width="3.1" height="14.00" fill="#089981"/>
<rect x="248.87" y="391.00" width="3.1" height="51.00" fill="#089981"/>
<rect x="252.76" y="391.00" width="3.1" height="33.40" fill="#f23645"/>
<rect x="256.65" y="424.00" width="3.1" height="29.00" fill="#f23645"/>
<rect x="260.55" y="452.60" width="3.1" height="17.60" fill="#f23645"/>
<rect x="264.44" y="470.30" width="3.1" height="12.90" fill="#f23645"/>
<rect x="268.34" y="479.70" width="3.1" height="2.30" fill="#089981"/>
<rect x="272.23" y="479.70" width="3.1" height="1.80" fill="#f23645"/>
<rect x="276.12" y="457.50" width="3.1" height="24.00" fill="#089981"/>
<rect x="280.02" y="457.50" width="3.1" height="18.70" fill="#f23645"/>
<rect x="283.91" y="438.00" width="3.1" height="36.00" fill="#089981"/>
<rect x="287.81" y="433.00" width="3.1" height="6.00" fill="#089981"/>
<rect x="291.70" y="433.00" width="3.1" height="26.00" fill="#f23645"/>
<rect x="295.59" y="455.60" width="3.1" height="3.40" fill="#089981"/>
<rect x="299.49" y="431.00" width="3.1" height="25.00" fill="#089981"/>
<rect x="303.38" y="425.60" width="3.1" height="2.00" fill="#089981"/>
<rect x="307.28" y="398.00" width="3.1" height="28.40" fill="#089981"/>
<rect x="311.17" y="360.50" width="3.1" height="37.80" fill="#089981"/>
<rect x="315.06" y="360.50" width="3.1" height="37.80" fill="#f23645"/>
<rect x="318.96" y="396.70" width="3.1" height="1.20" fill="#089981"/>
<rect x="322.85" y="403.50" width="3.1" height="22.40" fill="#f23645"/>
<rect x="326.75" y="425.20" width="3.1" height="1.60" fill="#f23645"/>
<rect x="330.64" y="425.90" width="3.1" height="19.60" fill="#f23645"/>
<rect x="334.53" y="445.00" width="3.1" height="22.90" fill="#f23645"/>
<rect x="338.43" y="398.80" width="3.1" height="69.10" fill="#089981"/>
<rect x="342.32" y="380.10" width="3.1" height="36.90" fill="#089981"/>
<rect x="346.22" y="363.60" width="3.1" height="17.20" fill="#089981"/>
<rect x="350.11" y="363.80" width="3.1" height="20.10" fill="#f23645"/>
<rect x="354.00" y="320.40" width="3.1" height="63.50" fill="#089981"/>
<rect x="357.90" y="275.00" width="3.1" height="46.00" fill="#089981"/>
<rect x="361.79" y="280.30" width="3.1" height="2.70" fill="#f23645"/>
<rect x="365.69" y="275.00" width="3.1" height="8.00" fill="#089981"/>
<rect x="369.58" y="260.80" width="3.1" height="14.80" fill="#089981"/>
<rect x="373.47" y="260.80" width="3.1" height="10.90" fill="#f23645"/>
<rect x="377.37" y="270.00" width="3.1" height="14.20" fill="#f23645"/>
<rect x="381.26" y="283.60" width="3.1" height="27.40" fill="#f23645"/>
<rect x="385.16" y="289.60" width="3.1" height="21.40" fill="#089981"/>
<rect x="389.05" y="261.00" width="3.1" height="30.00" fill="#089981"/>
<rect x="392.94" y="255.60" width="3.1" height="5.40" fill="#089981"/>
<rect x="396.84" y="255.60" width="3.1" height="8.80" fill="#f23645"/>
<rect x="400.73" y="268.00" width="3.1" height="11.00" fill="#f23645"/>
<rect x="404.63" y="278.00" width="3.1" height="4.00" fill="#f23645"/>
<rect x="408.52" y="257.60" width="3.1" height="24.40" fill="#089981"/>
<rect x="412.41" y="219.00" width="3.1" height="39.00" fill="#089981"/>
<rect x="416.31" y="214.20" width="3.1" height="5.10" fill="#089981"/>
<rect x="420.20" y="218.20" width="3.1" height="11.50" fill="#f23645"/>
<rect x="424.10" y="229.20" width="3.1" height="10.60" fill="#f23645"/>
<rect x="427.99" y="225.20" width="3.1" height="14.60" fill="#089981"/>
<rect x="431.88" y="210.10" width="3.1" height="15.40" fill="#089981"/>
<rect x="435.78" y="210.10" width="3.1" height="7.70" fill="#f23645"/>
<rect x="439.67" y="215.60" width="3.1" height="3.70" fill="#089981"/>
<rect x="443.57" y="185.80" width="3.1" height="30.60" fill="#089981"/>
<rect x="447.46" y="170.00" width="3.1" height="16.00" fill="#089981"/>
<rect x="451.35" y="170.00" width="3.1" height="17.70" fill="#f23645"/>
<rect x="455.25" y="187.00" width="3.1" height="14.30" fill="#f23645"/>
<rect x="459.14" y="193.00" width="3.1" height="6.00" fill="#089981"/>
<rect x="463.04" y="188.30" width="3.1" height="5.70" fill="#089981"/>
<rect x="466.93" y="188.30" width="3.1" height="6.40" fill="#f23645"/>
<rect x="470.82" y="194.00" width="3.1" height="4.70" fill="#f23645"/>
<rect x="474.72" y="191.00" width="3.1" height="7.70" fill="#089981"/>
<rect x="478.61" y="185.00" width="3.1" height="6.30" fill="#089981"/>
<rect x="482.51" y="183.50" width="3.1" height="1.80" fill="#089981"/>
<rect x="486.40" y="183.70" width="3.1" height="9.30" fill="#f23645"/>
<rect x="490.29" y="175.80" width="3.1" height="17.20" fill="#089981"/>
<rect x="494.19" y="163.70" width="3.1" height="12.60" fill="#089981"/>
<rect x="498.08" y="163.70" width="3.1" height="12.10" fill="#f23645"/>
<rect x="501.98" y="175.00" width="3.1" height="38.00" fill="#f23645"/>
<rect x="505.87" y="195.00" width="3.1" height="18.00" fill="#089981"/>
<rect x="509.76" y="195.00" width="3.1" height="26.70" fill="#f23645"/>
<rect x="513.66" y="183.00" width="3.1" height="38.30" fill="#089981"/>
<rect x="517.55" y="155.00" width="3.1" height="28.70" fill="#089981"/>
<rect x="521.45" y="153.20" width="3.1" height="1.80" fill="#089981"/>
<rect x="525.34" y="145.70" width="3.1" height="8.50" fill="#089981"/>
<rect x="529.23" y="115.70" width="3.1" height="30.60" fill="#089981"/>
<rect x="533.13" y="115.70" width="3.1" height="7.00" fill="#f23645"/>
<rect x="537.02" y="122.30" width="3.1" height="3.40" fill="#f23645"/>
<rect x="540.92" y="125.00" width="3.1" height="12.00" fill="#f23645"/>
<rect x="544.81" y="134.30" width="3.1" height="2.70" fill="#089981"/>
<rect x="548.70" y="122.00" width="3.1" height="12.70" fill="#089981"/>
<rect x="552.60" y="114.20" width="3.1" height="8.10" fill="#089981"/>
<rect x="556.49" y="110.30" width="3.1" height="1.70" fill="#089981"/>
<rect x="560.39" y="106.30" width="3.1" height="4.50" fill="#089981"/>
<rect x="564.28" y="96.70" width="3.1" height="10.00" fill="#089981"/>
<rect x="568.17" y="96.70" width="3.1" height="8.30" fill="#f23645"/>
<rect x="572.07" y="104.20" width="3.1" height="7.50" fill="#f23645"/>
<rect x="575.96" y="111.70" width="3.1" height="5.00" fill="#f23645"/>
<rect x="579.86" y="113.00" width="3.1" height="3.70" fill="#089981"/>
<rect x="583.75" y="71.70" width="3.1" height="41.80" fill="#089981"/>
<rect x="587.64" y="71.70" width="3.1" height="25.30" fill="#f23645"/>
<rect x="591.54" y="97.00" width="3.1" height="37.70" fill="#f23645"/>
<rect x="595.43" y="138.30" width="3.1" height="17.70" fill="#f23645"/>
<rect x="599.33" y="155.30" width="3.1" height="1.50" fill="#f23645"/>
<rect x="603.22" y="156.00" width="3.1" height="5.70" fill="#f23645"/>
<rect x="607.11" y="151.80" width="3.1" height="9.90" fill="#089981"/>
<rect x="611.01" y="151.80" width="3.1" height="20.40" fill="#f23645"/>
<rect x="614.90" y="157.80" width="3.1" height="13.20" fill="#089981"/>
<rect x="618.80" y="151.80" width="3.1" height="6.00" fill="#089981"/>
<rect x="622.69" y="152.70" width="3.1" height="1.00" fill="#f23645"/>
<line x1="0" y1="153.1" x2="663.5" y2="153.1" stroke="rgba(242,54,69,0.5)" stroke-width="1" stroke-dasharray="1 1"/>
<line x1="663.5" y1="0" x2="663.5" y2="581.5" stroke="#2a2e39" stroke-width="1"/>
<line x1="0" y1="581.5" x2="710" y2="581.5" stroke="#2a2e39" stroke-width="1"/>
<path d="M665.8 147.1 H704.9 A2 2 0 0 1 706.9 149.1 V166.6 A2 2 0 0 1 704.9 168.6 H665.8 Z" fill="#f23645"/>
<rect x="665.8" y="569.9" width="34.3" height="10.9" fill="#ef5350"/>
<rect x="5.4" y="22.3" width="39.2" height="16" rx="3" fill="#121620" stroke="#c9303e" stroke-width="1"/>
<rect x="65.4" y="22.5" width="39.2" height="15.6" rx="3" fill="#121620" stroke="#2557e0" stroke-width="1"/>
<clipPath id="pc"><rect x="150.9" y="5.1" width="25.6" height="11.7" rx="5.85"/></clipPath>
<g clip-path="url(#pc)"><rect x="150.9" y="5.1" width="13" height="11.7" fill="#1a3a38"/><rect x="163.9" y="5.1" width="12.6" height="11.7" fill="#3c1f33"/></g>
<circle cx="157.7" cy="10.9" r="2.8" fill="#14b48c"/>
<path d="M167.1 9.6 q1.25 -0.5 2.5 0 t2.5 0 M167.1 12.4 q1.25 -0.5 2.5 0 t2.5 0" fill="none" stroke="#d81b66" stroke-width="1.25" stroke-linecap="round"/>
<path d="M168.2 10.4 L171.0 11.6" fill="none" stroke="#d81b66" stroke-opacity="0.45" stroke-width="0.8"/>
<rect x="9.2" y="539.4" width="124.4" height="31.7" rx="15.85" fill="#131722" stroke="#2f3340" stroke-width="1"/>
<g transform="translate(19.3 549.1) scale(0.53)" fill="#ffffff"><path d="M14 22H7V11H0V4h14v18zM28 22h-8l7.5-18h8L28 22z"/><circle cx="20" cy="8" r="4"/></g>
<circle cx="624.7" cy="555" r="6.3" fill="#131722" stroke="#ab47bc" stroke-width="1.2"/>
<polyline points="626.8,551.4 623.0,554.8 626.2,555.2 622.4,558.6" fill="none" stroke="#b04ccc" stroke-width="1.3" stroke-linecap="round" stroke-linejoin="round"/>
<clipPath id="fl1"><circle cx="628.6" cy="571.3" r="4.9"/></clipPath>
<circle cx="628.6" cy="571.3" r="6.1" fill="#131722" stroke="#e8323f" stroke-width="1.2"/>
<g clip-path="url(#fl1)"><rect x="622.6" y="565.3" width="12" height="12" fill="#f4f4f4"/><rect x="622.6" y="566.70" width="12" height="1.9" fill="#f0353f"/><rect x="622.6" y="570.70" width="12" height="1.9" fill="#f0353f"/><rect x="622.6" y="574.70" width="12" height="1.9" fill="#f0353f"/><rect x="622.6" y="568.70" width="12" height="0.3" fill="#f4f4f4"/></g>
<clipPath id="fl0"><circle cx="623.5" cy="571.3" r="4.9"/></clipPath>
<circle cx="623.5" cy="571.3" r="6.1" fill="#131722" stroke="#e8323f" stroke-width="1.2"/>
<g clip-path="url(#fl0)"><rect x="617.5" y="565.3" width="12" height="12" fill="#f4f4f4"/><rect x="617.5" y="566.70" width="12" height="1.9" fill="#f0353f"/><rect x="617.5" y="570.70" width="12" height="1.9" fill="#f0353f"/><rect x="617.5" y="574.70" width="12" height="1.9" fill="#f0353f"/><rect x="617.5" y="568.70" width="12" height="0.3" fill="#f4f4f4"/><rect x="617.5" y="565.3" width="8.2" height="7.2" fill="#3c8cf0"/><rect x="620.00" y="567.80" width="0.6" height="0.5" fill="#dfe8ff"/><rect x="622.00" y="567.80" width="0.6" height="0.5" fill="#dfe8ff"/><rect x="621.00" y="569.10" width="0.6" height="0.5" fill="#dfe8ff"/><rect x="620.00" y="570.40" width="0.6" height="0.5" fill="#dfe8ff"/><rect x="622.00" y="570.40" width="0.6" height="0.5" fill="#dfe8ff"/></g>
<circle cx="688.3" cy="590.4" r="3.3" fill="none" stroke="#b2b5be" stroke-width="0.9"/>
<line x1="691.90" y1="590.40" x2="693.20" y2="590.40" stroke="#b2b5be" stroke-width="1.1" stroke-linecap="round"/>
<line x1="690.85" y1="592.95" x2="691.76" y2="593.86" stroke="#b2b5be" stroke-width="1.1" stroke-linecap="round"/>
<line x1="688.30" y1="594.00" x2="688.30" y2="595.30" stroke="#b2b5be" stroke-width="1.1" stroke-linecap="round"/>
<line x1="685.75" y1="592.95" x2="684.84" y2="593.86" stroke="#b2b5be" stroke-width="1.1" stroke-linecap="round"/>
<line x1="684.70" y1="590.40" x2="683.40" y2="590.40" stroke="#b2b5be" stroke-width="1.1" stroke-linecap="round"/>
<line x1="685.75" y1="587.85" x2="684.84" y2="586.94" stroke="#b2b5be" stroke-width="1.1" stroke-linecap="round"/>
<line x1="688.30" y1="586.80" x2="688.30" y2="585.50" stroke="#b2b5be" stroke-width="1.1" stroke-linecap="round"/>
<line x1="690.85" y1="587.85" x2="691.76" y2="586.94" stroke="#b2b5be" stroke-width="1.1" stroke-linecap="round"/>
</svg>
<div class="t" style="left:5.28px;top:5.53px;font-size:11.19px;line-height:11.19px;color:#d1d4dc;font-weight:normal;transform:scaleX(0.918);">Euro</div>
<div class="t" style="left:30.50px;top:5.53px;font-size:11.19px;line-height:11.19px;color:#d1d4dc;font-weight:normal;transform:scaleX(1.133);">/</div>
<div class="t" style="left:38.23px;top:5.53px;font-size:11.19px;line-height:11.19px;color:#d1d4dc;font-weight:normal;transform:scaleX(0.875);">U.S.</div>
<div class="t" style="left:60.48px;top:5.53px;font-size:11.19px;line-height:11.19px;color:#d1d4dc;font-weight:normal;transform:scaleX(0.921);">Dollar</div>
<div class="t" style="left:96.22px;top:5.53px;font-size:11.19px;line-height:11.19px;color:#d1d4dc;font-weight:normal;transform:scaleX(0.785);">1D</div>
<div class="t" style="left:115.38px;top:5.53px;font-size:11.19px;line-height:11.19px;color:#d1d4dc;font-weight:normal;transform:scaleX(0.820);">FXCM</div>
<div class="t" style="left:89.70px;top:5.53px;font-size:11.19px;line-height:11.19px;color:#d1d4dc;font-weight:normal;transform:scaleX(0.900);">·</div>
<div class="t" style="left:110.10px;top:5.53px;font-size:11.19px;line-height:11.19px;color:#d1d4dc;font-weight:normal;transform:scaleX(0.900);">·</div>
<div class="t" style="left:187.00px;top:7.62px;font-size:8.72px;line-height:8.72px;color:#d1d4dc;font-weight:normal;transform:scaleX(0.814);">O</div>
<div class="t" style="left:193.70px;top:7.62px;font-size:8.72px;line-height:8.72px;color:#f23645;font-weight:normal;transform:scaleX(0.929);">1.07366</div>
<div class="t" style="left:226.90px;top:7.62px;font-size:8.72px;line-height:8.72px;color:#d1d4dc;font-weight:normal;transform:scaleX(0.767);">H</div>
<div class="t" style="left:233.20px;top:7.62px;font-size:8.72px;line-height:8.72px;color:#f23645;font-weight:normal;transform:scaleX(0.925);">1.07370</div>
<div class="t" style="left:266.80px;top:7.62px;font-size:8.72px;line-height:8.72px;color:#d1d4dc;font-weight:normal;transform:scaleX(0.780);">L</div>
<div class="t" style="left:272.20px;top:7.62px;font-size:8.72px;line-height:8.72px;color:#f23645;font-weight:normal;transform:scaleX(0.923);">1.07323</div>
<div class="t" style="left:305.10px;top:7.62px;font-size:8.72px;line-height:8.72px;color:#d1d4dc;font-weight:normal;transform:scaleX(0.750);">C</div>
<div class="t" style="left:310.90px;top:7.62px;font-size:8.72px;line-height:8.72px;color:#f23645;font-weight:normal;transform:scaleX(0.939);">1.07346</div>
<div class="t" style="left:345.20px;top:7.62px;font-size:8.72px;line-height:8.72px;color:#f23645;font-weight:normal;transform:scaleX(0.950);">-0.00020</div>
<div class="t" style="left:381.10px;top:7.62px;font-size:8.72px;line-height:8.72px;color:#f23645;font-weight:normal;transform:scaleX(0.961);">(-0.02%)</div>
<div class="t" style="left:11.00px;top:26.82px;font-size:8.72px;line-height:8.72px;color:#f23645;font-weight:normal;transform:scaleX(0.912);">1.0734</div>
<div class="t" style="left:35.50px;top:26.46px;font-size:6.54px;line-height:6.54px;color:#f23645;font-weight:normal;transform:scaleX(0.950);">6</div>
<div class="t" style="left:49.80px;top:25.82px;font-size:8.72px;line-height:8.72px;color:#d1d4dc;font-weight:normal;transform:scaleX(0.842);">0.7</div>
<div class="t" style="left:71.10px;top:26.84px;font-size:8.58px;line-height:8.58px;color:#2962ff;font-weight:normal;transform:scaleX(0.969);">1.0735</div>
<div class="t" style="left:96.50px;top:26.46px;font-size:6.54px;line-height:6.54px;color:#2962ff;font-weight:normal;transform:scaleX(0.725);">3</div>
<div class="t" style="left:5.70px;top:45.77px;font-size:9.01px;line-height:9.01px;color:#d1d4dc;font-weight:normal;transform:scaleX(0.933);">Vol</div>
<div class="t" style="left:26.90px;top:45.04px;font-size:8.58px;line-height:8.58px;color:#f0514f;font-weight:normal;transform:scaleX(0.919);">1.233K</div>
<div class="t" style="left:325.10px;top:24.80px;font-size:13.0px;line-height:13.0px;color:#efefef;font-weight:normal;transform:scaleX(0.900);">www.nehcap.com</div>
<div class="t" style="left:673.10px;top:0.39px;font-size:9.16px;line-height:9.16px;color:#b2b5be;font-weight:normal;transform:scaleX(0.803);">1.12000</div>
<div class="t" style="left:673.10px;top:32.17px;font-size:9.16px;line-height:9.16px;color:#b2b5be;font-weight:normal;transform:scaleX(0.828);">1.11000</div>
<div class="t" style="left:673.10px;top:63.94px;font-size:9.16px;line-height:9.16px;color:#b2b5be;font-weight:normal;transform:scaleX(0.803);">1.10000</div>
<div class="t" style="left:673.10px;top:95.72px;font-size:9.16px;line-height:9.16px;color:#b2b5be;font-weight:normal;transform:scaleX(0.803);">1.09000</div>
<div class="t" style="left:673.10px;top:127.50px;font-size:9.16px;line-height:9.16px;color:#b2b5be;font-weight:normal;transform:scaleX(0.803);">1.08000</div>
<div class="t" style="left:673.10px;top:191.06px;font-size:9.16px;line-height:9.16px;color:#b2b5be;font-weight:normal;transform:scaleX(0.803);">1.06000</div>
<div class="t" style="left:673.10px;top:222.84px;font-size:9.16px;line-height:9.16px;color:#b2b5be;font-weight:normal;transform:scaleX(0.803);">1.05000</div>
<div class="t" style="left:673.10px;top:254.62px;font-size:9.16px;line-height:9.16px;color:#b2b5be;font-weight:normal;transform:scaleX(0.803);">1.04000</div>
<div class="t" style="left:673.10px;top:286.40px;font-size:9.16px;line-height:9.16px;color:#b2b5be;font-weight:normal;transform:scaleX(0.803);">1.03000</div>
<div class="t" style="left:673.10px;top:318.18px;font-size:9.16px;line-height:9.16px;color:#b2b5be;font-weight:normal;transform:scaleX(0.803);">1.02000</div>
<div class="t" style="left:673.10px;top:349.96px;font-size:9.16px;line-height:9.16px;color:#b2b5be;font-weight:normal;transform:scaleX(0.803);">1.01000</div>
<div class="t" style="left:673.10px;top:381.73px;font-size:9.16px;line-height:9.16px;color:#b2b5be;font-weight:normal;transform:scaleX(0.803);">1.00000</div>
<div class="t" style="left:673.10px;top:413.51px;font-size:9.16px;line-height:9.16px;color:#b2b5be;font-weight:normal;transform:scaleX(0.803);">0.99000</div>
<div class="t" style="left:673.10px;top:445.29px;font-size:9.16px;line-height:9.16px;color:#b2b5be;font-weight:normal;transform:scaleX(0.803);">0.98000</div>
<div class="t" style="left:673.10px;top:477.07px;font-size:9.16px;line-height:9.16px;color:#b2b5be;font-weight:normal;transform:scaleX(0.803);">0.97000</div>
<div class="t" style="left:673.10px;top:508.85px;font-size:9.16px;line-height:9.16px;color:#b2b5be;font-weight:normal;transform:scaleX(0.803);">0.96000</div>
<div class="t" style="left:673.10px;top:540.63px;font-size:9.16px;line-height:9.16px;color:#b2b5be;font-weight:normal;transform:scaleX(0.803);">0.95000</div>
<div class="t" style="left:672.50px;top:150.04px;font-size:7.99px;line-height:7.99px;color:#ffffff;font-weight:normal;transform:scaleX(0.938);">1.07346</div>
<div class="t" style="left:672.50px;top:158.84px;font-size:8.58px;line-height:8.58px;color:#ffffff;font-weight:normal;transform:scaleX(0.882);">22:57:41</div>
<div class="t" style="left:672.50px;top:571.65px;font-size:7.85px;line-height:7.85px;color:#ffffff;font-weight:normal;transform:scaleX(0.940);">1.233K</div>
<div class="t" style="left:64.60px;top:586.33px;font-size:9.3px;line-height:9.3px;color:#b2b5be;font-weight:normal;transform:scaleX(0.781);">Aug</div>
<div class="t" style="left:154.40px;top:586.33px;font-size:9.3px;line-height:9.3px;color:#b2b5be;font-weight:normal;transform:scaleX(0.744);">Sep</div>
<div class="t" style="left:239.80px;top:586.33px;font-size:9.3px;line-height:9.3px;color:#b2b5be;font-weight:normal;transform:scaleX(0.813);">Oct</div>
<div class="t" style="left:321.60px;top:586.33px;font-size:9.3px;line-height:9.3px;color:#b2b5be;font-weight:normal;transform:scaleX(0.753);">Nov</div>
<div class="t" style="left:407.90px;top:586.33px;font-size:9.3px;line-height:9.3px;color:#b2b5be;font-weight:normal;transform:scaleX(0.738);">Dec</div>
<div class="t" style="left:578.90px;top:586.33px;font-size:9.3px;line-height:9.3px;color:#b2b5be;font-weight:normal;transform:scaleX(0.788);">Feb</div>
<div class="t" style="left:491.00px;top:586.35px;font-size:9.16px;line-height:9.16px;color:#c3c6ce;font-weight:normal;transform:scaleX(0.845);-webkit-text-stroke:0.45px #c3c6ce;">2023</div>
<div class="t" style="left:656.80px;top:586.23px;font-size:9.3px;line-height:9.3px;color:#b2b5be;font-weight:normal;transform:scaleX(0.715);">Ma</div>
<div class="t" style="left:43.00px;top:549.01px;font-size:13.81px;line-height:13.81px;color:#ffffff;font-weight:normal;transform:scaleX(1.026);-webkit-text-stroke:0.55px #fff;">TradingView</div>
</body></html>
